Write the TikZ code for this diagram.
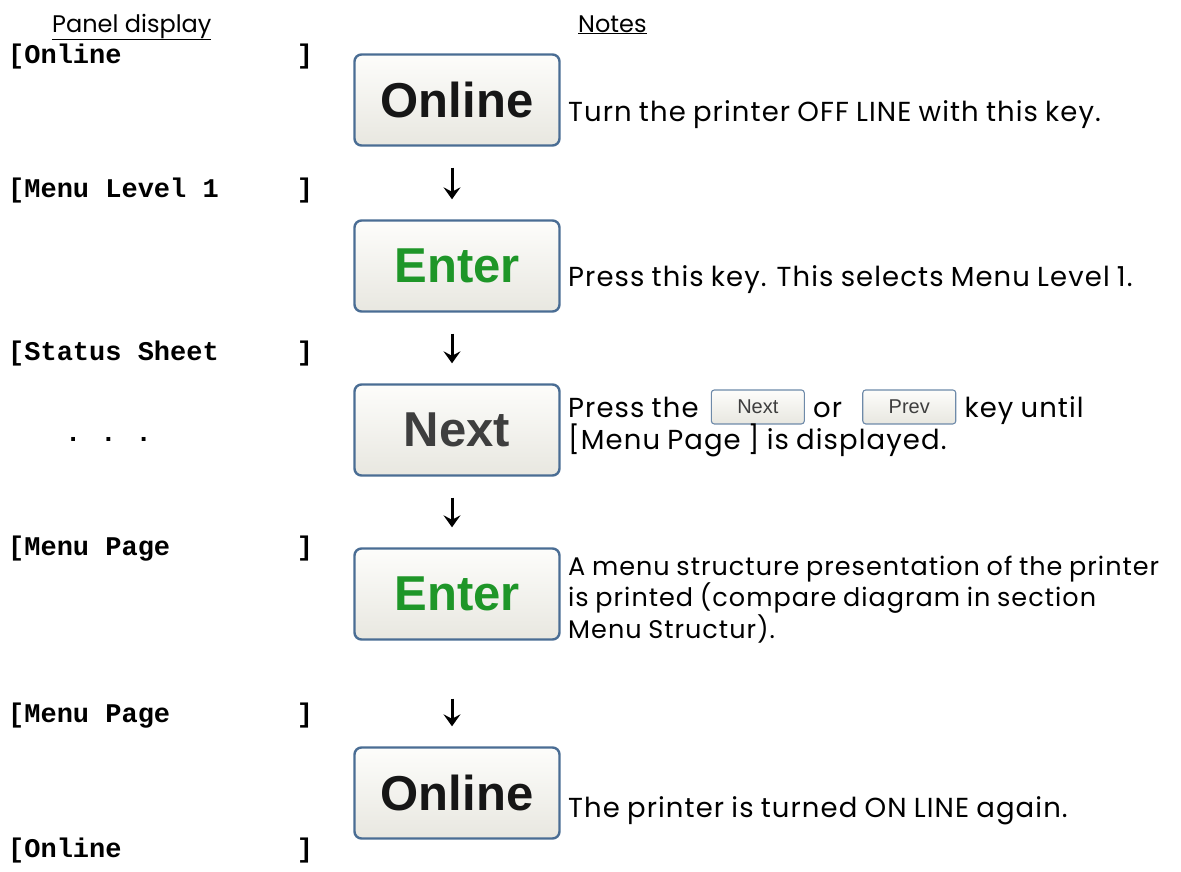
\documentclass[tikz,border=0pt]{standalone}
\usepackage{fontspec}
\setmainfont{Poppins}
\newfontfamily\notefont{Poppins}[LetterSpace=4, WordSpace=0.85]
\newfontfamily\keyfont{Liberation Sans}
\newfontfamily\panelfont{Liberation Mono}
\newcommand\pgap{\hspace{0.6em}}
\newcommand\tightlines{\lineskiplimit-30pt\relax}
\usepackage{tikz}
\usetikzlibrary{arrows.meta,positioning}

\definecolor{keyframe}{HTML}{4A6D94}
\definecolor{keytop}{HTML}{FDFDFB}
\definecolor{keybottom}{HTML}{E8E7E0}
\definecolor{entergreen}{HTML}{1E9628}
\definecolor{nextgray}{HTML}{3E3E3E}
\definecolor{onlineink}{HTML}{161616}

\begin{document}
\begin{tikzpicture}[x=1pt, y=-1pt,
  key/.style={draw=keyframe, line width=2.4pt, rounded corners=7pt, top color=keytop, bottom color=keybottom, minimum width=205pt, minimum height=91pt, inner sep=0pt, font=\keyfont\bfseries\fontsize{49}{56}\selectfont},
  minikey/.style={draw=keyframe!80, line width=1.1pt, rounded corners=3pt, top color=keytop, bottom color=keybottom, minimum width=93pt, minimum height=34pt, inner sep=0pt, font=\keyfont\fontsize{20}{24}\selectfont, text=nextgray},
  panel/.style={anchor=base west, inner sep=0pt, text width=305pt, font=\panelfont\bfseries\fontsize{27}{31}\selectfont},
  note/.style={anchor=base west, inner sep=0pt, align=left, font=\notefont\fontsize{27.5}{31.5}\selectfont\tightlines},
  head/.style={anchor=base west, inner sep=0pt, font=\fontsize{24}{30}\selectfont},
  steparrow/.style={-{Stealth[length=12pt, width=17pt, inset=4.5pt]}, line width=3pt, shorten <=21pt, shorten >=20pt}
]
\useasboundingbox (0,0) rectangle (1181,871);

% column heads
\node[head] (hpanel) at (52,32) {\underline{Panel display}};
\node[head] (hnotes) at (578,32) {\underline{Notes}};

% panel display column
\node[panel] (p1) at (8,63) {[Online\hfill]};
\node[panel] (p2) at (8,197) {[Menu\pgap Level\pgap 1\hfill]};
\node[panel] (p3) at (8,360) {[Status\pgap Sheet\hfill]};
\node[panel, text width=] (dots) at (65,441) {.\hspace{19pt}.\hspace{19pt}.};
\node[panel] (p4) at (8,555) {[Menu\pgap Page\hfill]};
\node[panel] (p5) at (8,722) {[Menu\pgap Page\hfill]};
\node[panel] (p6) at (8,857) {[Online\hfill]};

% keys
\node[key, text=onlineink] (on1) at (457,100) {Online};
\node[key, text=entergreen] (ent1) at (457,266) {Enter};
\node[key, text=nextgray] (nxt) at (457,430) {Next};
\node[key, text=entergreen] (ent2) at (457,594) {Enter};
\node[key, text=onlineink] (on2) at (457,793) {Online};

\draw[steparrow] ([xshift=-5pt]on1.south) -- ([xshift=-5pt]ent1.north);
\draw[steparrow] ([xshift=-5pt]ent1.south) -- ([xshift=-5pt]nxt.north);
\draw[steparrow] ([xshift=-5pt]nxt.south) -- ([xshift=-5pt]ent2.north);
\draw[steparrow, shorten <=58pt] ([xshift=-5pt]ent2.south) -- ([xshift=-5pt]on2.north);

% notes
\node[note] (n1) at (568,121) {Turn the printer OFF LINE with this key.};
\node[note] (n2) at (568,286) {Press this key. This selects Menu Level 1.};
\node[note] (pressthe) at (568,417) {Press the};
\node[minikey, right=12pt of pressthe] (minnext) {Next};
\node[note] (ornode) at ([xshift=8pt]minnext.east |- pressthe.base) {or};
\node[minikey, right=20pt of ornode.east |- minnext] (minprev) {Prev};
\node[note] (keyuntil) at ([xshift=8pt]minprev.east |- pressthe.base) {key until};
\node[note] (n3b) at (568,449) {[Menu Page ] is displayed.};
\node[note, font=\notefont\fontsize{25.5}{31.5}\selectfont\tightlines] (n4) at (568,638) {A menu structure presentation of the printer\\is printed (compare diagram in section\\Menu Structur).};
\node[note] (n5) at (568,817) {The printer is turned ON LINE again.};
\end{tikzpicture}
\end{document}
